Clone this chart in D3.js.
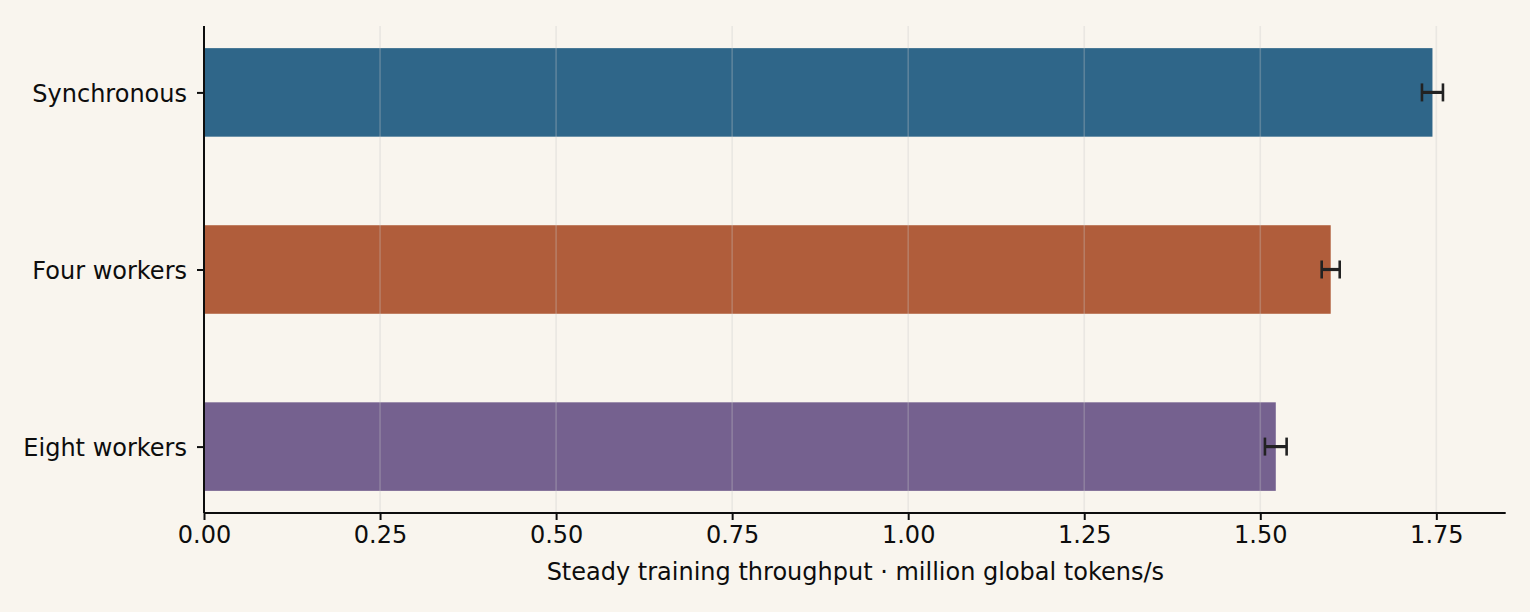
<!DOCTYPE html>
<html>
<head>
<meta charset="utf-8">
<script src="https://cdn.jsdelivr.net/npm/d3@7"></script>
<style>
  html, body { margin: 0; padding: 0; background: #f9f5ee; }
  svg { display: block; }
  text { font-family: "DejaVu Sans", sans-serif; fill: #0d0d0d; }
</style>
</head>
<body>
<svg id="chart" width="1530" height="612"></svg>
<script>
const categories = ["Synchronous", "Four workers", "Eight workers"];
const throughput = [1.7445, 1.600, 1.522];
const errors = [0.0149, 0.0128, 0.0154];
const barColors = ["#2f6689", "#b05d3b", "#75618f"];
const xTicks = [0, 0.25, 0.5, 0.75, 1.0, 1.25, 1.5, 1.75];
const xLabel = "Steady training throughput · million global tokens/s";

(function () {
const svg = d3.select("#chart");
svg.append("rect").attr("width", 1530).attr("height", 612).attr("fill", "#f9f5ee");

const mLeft = 204, mRight = 1505.7, mTop = 26, mBottom = 513;
const x = d3.scaleLinear().domain([0, 1.8485]).range([mLeft, mRight]);
const y = d3.scaleLinear().domain([-0.375, 2.375]).range([mTop, mBottom]);
const barH = 0.5;
const fs = 24;

// bars
svg.append("g").selectAll("rect").data(categories).join("rect")
  .attr("x", x(0))
  .attr("y", (d, i) => y(i - barH / 2))
  .attr("width", (d, i) => x(throughput[i]) - x(0))
  .attr("height", y(barH) - y(0))
  .attr("fill", (d, i) => barColors[i]);

// grid (drawn above bars, translucent)
svg.append("g").selectAll("line").data(xTicks).join("line")
  .attr("x1", d => x(d)).attr("x2", d => x(d))
  .attr("y1", mTop).attr("y2", mBottom)
  .attr("stroke", "#c8c8c8").attr("stroke-opacity", 0.3).attr("stroke-width", 1.6);

// error bars
const eb = svg.append("g").attr("stroke", "#222222");
categories.forEach((c, i) => {
  const cy = y(i);
  eb.append("line")
    .attr("x1", x(throughput[i] - errors[i])).attr("x2", x(throughput[i] + errors[i]))
    .attr("y1", cy).attr("y2", cy).attr("stroke-width", 3.2);
  [throughput[i] - errors[i], throughput[i] + errors[i]].forEach(v => {
    eb.append("line")
      .attr("x1", x(v)).attr("x2", x(v))
      .attr("y1", cy - 9).attr("y2", cy + 9).attr("stroke-width", 2.6);
  });
});

// x axis
const xAxis = d3.axisBottom(x).tickValues(xTicks).tickFormat(d3.format(".2f"))
  .tickSize(7).tickPadding(6).tickSizeOuter(0);
const gx = svg.append("g").attr("transform", `translate(0,${mBottom})`).call(xAxis);
gx.select(".domain").attr("stroke", "#0d0d0d").attr("stroke-width", 2).attr("d", `M${mLeft},0H${mRight}`);
gx.selectAll(".tick line").attr("stroke", "#0d0d0d").attr("stroke-width", 2);
gx.selectAll(".tick text").attr("font-size", fs).attr("font-family", "DejaVu Sans").attr("fill", "#0d0d0d").attr("dy", "0.71em");

// y axis
const yAxis = d3.axisLeft(y).tickValues(categories.map((c, i) => i))
  .tickFormat(i => categories[i]).tickSize(7).tickPadding(10).tickSizeOuter(0);
const gy = svg.append("g").attr("transform", `translate(${mLeft},0)`).call(yAxis);
gy.select(".domain").attr("stroke", "#0d0d0d").attr("stroke-width", 2).attr("d", `M0,${mTop}V${mBottom}`);
gy.selectAll(".tick line").attr("stroke", "#0d0d0d").attr("stroke-width", 2);
gy.selectAll(".tick text").attr("font-size", fs).attr("font-family", "DejaVu Sans").attr("fill", "#0d0d0d").attr("dy", "0.36em");

// x label
svg.append("text")
  .attr("x", (mLeft + mRight) / 2 + 0.5).attr("y", 580)
  .attr("text-anchor", "middle").attr("font-size", fs)
  .text(xLabel);
})();
</script>
</body>
</html>
